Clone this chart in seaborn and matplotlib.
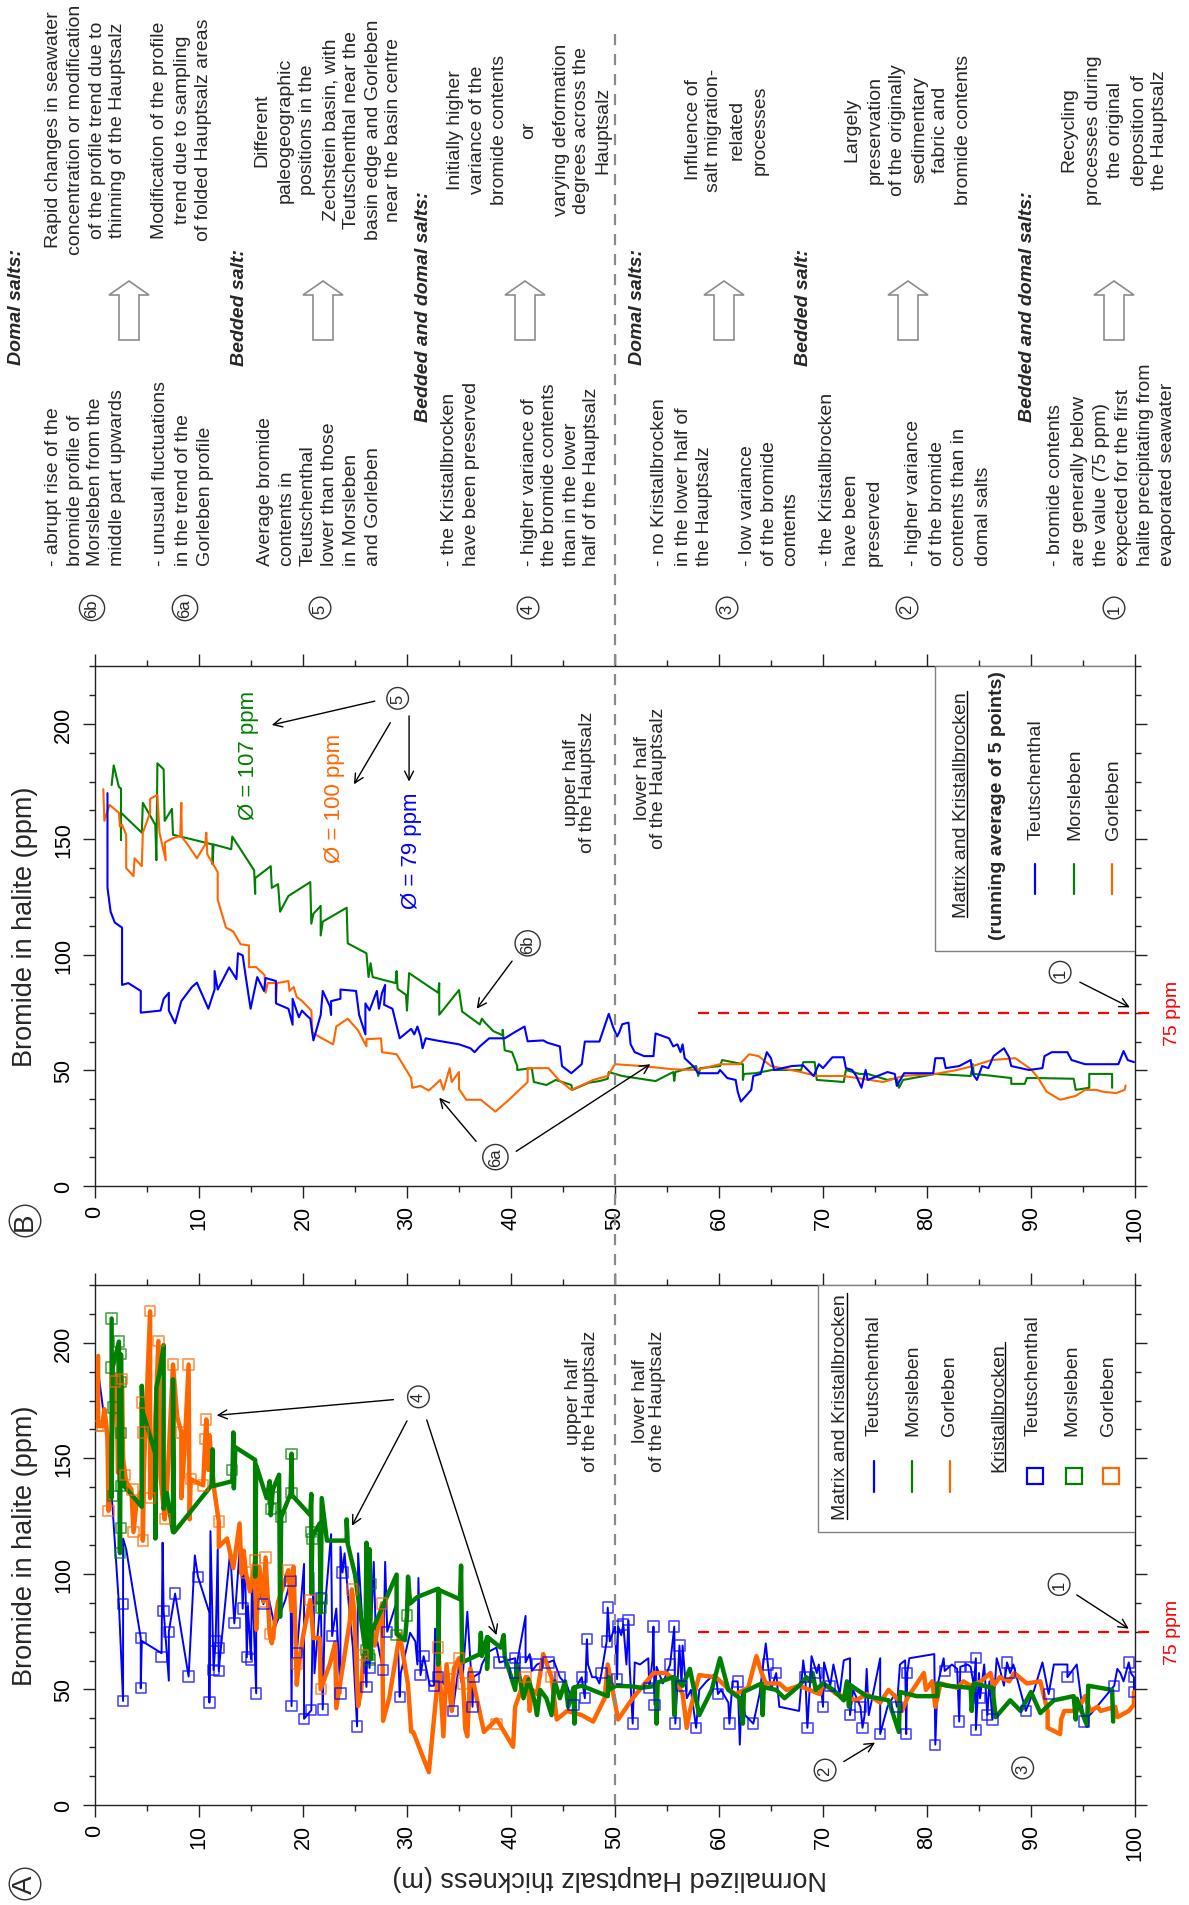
import numpy as np
import pandas as pd
import matplotlib
matplotlib.use("Agg")
import matplotlib.pyplot as plt
import seaborn as sns
from matplotlib.lines import Line2D
from matplotlib.patches import Polygon, Rectangle

# ---------------- data (thickness m, bromide ppm) ----------------
B_TEU = [(1.2,170),(1.2,129),(1.5,118.7),(1.9,114),(2.6,111.8),(2.6,87),(3.2,87.8),(4.4,84.4),(4.4,75),(6.3,75.9),(6.6,81),(7.1,83.6),(7.1,75.9),(7.7,70.4),(8.3,80),(9.3,86),(9.8,88),(10.4,81.8),(10.9,76.7),(11.5,85),(11.5,93),(11.8,85),(12.9,94.6),(13.6,89.5),(13.75,100.7),(14.2,99.8),(14.5,90.4),(14.96,76.7),(15.6,90.4),(16.25,84.4),(16.4,90),(17.4,88.7),(17.4,79),(18.6,76.7),(19.0,69.8),(19.0,81),(19.6,73),(19.9,75.9),(20.3,74),(20.7,72.4),(21.0,63),(21.7,74),(21.9,84.4),(22.6,77.6),(22.7,74),(22.7,80),(23.6,81),(23.6,85),(25.1,84.4),(25.4,74),(26.0,65.6),(26.0,79),(26.4,76),(27.1,84.4),(27.3,76.7),(27.6,83.6),(27.9,87),(27.8,78.4),(28.6,76.7),(29.3,63.9),(30.4,68),(30.7,65.6),(31.0,69),(31.3,64.7),(31.5,59.6),(31.8,63.9),(32.8,63),(35.0,61.3),(36.1,59.6),(36.5,57.9),(37.0,60.4),(37.9,63.9),(39.4,63.9),(40.3,66.4),(41.3,69),(41.6,62.6),(43.1,63),(43.5,62),(44.7,60.4),(44.9,51.9),(45.8,48.8),(46.8,52.7),(47.1,62.5),(48.5,62.5),(49.4,74.5),(49.8,69),(50.2,64.7),(50.4,66.4),(50.7,70),(51.3,70.7),(51.5,61.3),(51.9,57.9),(52.8,56.2),(53.7,56.2),(53.9,66),(55.2,63.9),(55.6,60.4),(56.0,61.3),(56.3,57.9),(56.5,61.3),(56.7,55.3),(57.5,51.9),(58.0,48.8),(59.9,48.8),(60.1,50.2),(60.8,46.7),(61.6,45.9),(61.8,40.8),(62.1,36.5),(63.1,41.6),(63.3,47.6),(64.0,48.5),(64.6,57.9),(65.0,55.3),(65.3,50.2),(67.0,51.9),(68.1,52.2),(69.1,47.6),(69.6,52.7),(70.0,51),(70.9,55.7),(72.0,55.7),(72.2,51),(72.8,50.2),(73.2,47.6),(73.7,42.5),(74.1,50.2),(74.3,45.9),(76.2,49.3),(76.9,48.5),(77.1,43.3),(77.8,48.8),(80.6,48.8),(80.8,55.3),(81.6,55.3),(81.8,51),(83.1,51.9),(84.2,54.5),(84.4,48.5),(84.8,45.9),(85.3,51.9),(85.9,51),(86.4,56.2),(87.4,59.6),(87.9,55.7),(88.1,51.9),(89.8,50.2),(91.1,51),(91.3,56.2),(92.0,57.9),(93.5,57.9),(93.9,54.5),(95.2,52.7),(98.4,52.7),(98.9,58.4),(99.3,54.5),(99.9,53.6)]

B_MOR = [(1.6,173.5),(1.8,182),(2.3,172.6),(2.5,172),(2.5,149.8),(2.5,161.5),(4.5,152.9),(4.6,165.8),(5.8,156.3),(5.9,141),(6.0,182.9),(6.6,180.3),(6.7,158),(7.4,163.2),(7.5,152),(11.3,147.8),(11.3,139.2),(11.4,147.8),(13.1,145.7),(13.2,151.2),(15.3,136.6),(15.4,126.4),(15.4,133.2),(16.9,138.4),(17.0,129),(17.6,130.6),(17.8,118.7),(18.6,125.5),(20.7,131.5),(20.8,113.5),(21.0,117.8),(21.7,121.2),(21.7,108.4),(21.9,114.4),(24.2,120.4),(24.3,105),(26.1,100.7),(26.3,90.4),(26.5,96.4),(26.7,90.4),(28.9,87.8),(29.0,93),(29.1,85.3),(29.9,82.7),(30.0,75.9),(30.2,92.1),(33.0,83.6),(33.1,87.8),(33.1,74.1),(35.0,84.8),(35.3,75.5),(37.0,69.9),(37.2,72.4),(37.5,70.7),(38.3,67),(39.2,65.2),(39.2,67.6),(39.4,58.7),(40.1,57.9),(40.6,51.9),(40.6,50.2),(42.0,51),(42.2,45),(43.4,43.7),(44.3,45.9),(45.8,43.7),(45.9,41.6),(47.5,44.7),(48.5,45.4),(49.3,46.4),(49.4,49.3),(50.7,47.6),(53.9,45.4),(55.6,49.3),(55.7,45.5),(55.8,49.3),(56.5,50.2),(57.8,51.9),(58.0,47.6),(58.2,51),(60.1,51.9),(60.3,54.5),(62.3,52.7),(62.3,45.9),(62.4,48.5),(63.5,48.8),(65.1,50.2),(67.9,50.2),(68.1,53.6),(69.2,53.6),(69.4,45.9),(72.0,45),(72.2,50.2),(73.5,48.5),(74.3,48.5),(76.2,45.9),(77.1,46.7),(77.3,42.5),(77.7,45.9),(80.8,48.5),(84.2,47.6),(84.4,52.7),(84.5,48.5),(86.4,47.6),(88.1,46.7),(88.1,44.2),(89.4,44.2),(89.6,46.7),(90.7,46.7),(94.1,46.4),(94.3,41.6),(95.6,42.5),(95.6,48.5),(97.8,48.5),(97.8,42.5)]

B_GOR = [(0.8,171.7),(0.9,158),(1.4,164.9),(2.3,161.5),(2.4,155.5),(2.6,156.3),(3.0,152),(3.0,137.5),(3.7,134.1),(3.8,141.8),(4.5,138.4),(4.6,152.9),(5.3,161.5),(5.3,167.5),(6.0,169.2),(6.2,152.9),(6.8,140.9),(6.7,148.6),(7.4,150.3),(8.2,151.5),(8.3,165.8),(8.35,151),(8.9,147.8),(9.8,141.8),(10.6,147.8),(10.7,152.9),(10.8,143.5),(11.8,135.8),(11.8,123.8),(12.6,111.8),(13.3,110.1),(14.0,104.6),(14.8,104.1),(14.8,94.7),(15.5,94.7),(16.3,91.3),(16.4,83.6),(16.6,87.8),(17.4,87.8),(17.4,80.1),(17.5,87.8),(18.6,88.7),(18.7,84.4),(19.1,86.1),(19.4,81.8),(19.9,80.1),(20.8,75.9),(20.9,66.4),(21.7,64.2),(22.9,61.3),(23.2,69),(24.3,72.4),(25.3,67.3),(26.1,60.4),(26.1,63.5),(27.5,63.9),(27.6,57.9),(29.0,57),(30.4,46.7),(30.5,42.5),(31.3,43.3),(32.1,41.3),(33.2,45.9),(33.5,41.6),(34.1,51),(34.3,45),(35.0,49.3),(35.0,42),(35.7,37.3),(37.1,37.3),(38.5,32.2),(39.8,37.3),(41.6,45),(41.6,51),(43.6,51),(44.6,45.9),(45.8,41.6),(47.1,44.2),(47.9,45.9),(49.3,47.6),(50.0,52.7),(52.6,51.9),(55.6,50.5),(57.8,50.2),(60.1,52.7),(62.0,52.7),(62.9,57),(63.8,56.2),(65.0,51.9),(67.9,49.3),(69.4,47.6),(72.0,47.6),(75.8,45),(77.7,47.6),(80.8,48.5),(82.9,50.2),(84.4,51.9),(86.2,54.5),(88.5,55.3),(90.0,50.5),(90.7,46.7),(91.5,40.8),(92.8,37.3),(94.3,39),(95.2,41.6),(96.3,41.6),(96.9,40.8),(98.2,40.2),(99.0,41.6),(99.1,43.5)]

A_TEU = [(0.3,187.9),(1.1,160),(1.2,153.9),(1.6,134.6),(2.3,86.9),(2.7,45),(2.7,115.3),(3.0,110.7),(4.4,72.2),(4.4,50.5),(4.5,71),(6.4,65.7),(6.5,113.5),(6.6,84),(7.1,53.8),(7.1,75),(7.7,91.5),(9.0,55.6),(9.6,108),(9.9,98.8),(11.0,83.2),(11.0,44.3),(11.1,118.5),(11.4,58.4),(11.6,71),(11.8,110.7),(11.9,57.9),(12.1,67.6),(13.0,109.8),(13.4,78.6),(14.0,116.3),(14.2,85),(14.4,109.8),(14.6,63.9),(14.7,86),(15.0,63),(15.1,99.7),(15.5,48.3),(15.5,96),(16.2,86.9),(16.4,96),(17.3,76.8),(18.3,88.7),(18.8,97),(18.9,42.8),(19.0,99),(19.4,65.7),(20.1,104.3),(20.1,37.3),(20.8,41),(21.0,100.6),(21.1,57),(21.7,89.6),(21.9,41.3),(22.1,85),(22.7,117.2),(22.8,73.1),(23.2,85),(23.6,48.3),(23.6,111.7),(23.8,100.6),(24.0,108.9),(24.4,87),(24.8,68),(25.2,34),(25.3,108.9),(25.6,87),(26.1,51.1),(26.2,73),(26.4,59.3),(26.8,105.2),(27.0,74),(27.7,58.4),(27.9,105.2),(28.1,75),(29.0,87.8),(29.3,46.8),(29.4,57),(30.3,74.5),(30.8,70.8),(31.0,60.8),(31.1,98.2),(31.3,56.2),(31.6,64.4),(32.2,51.6),(32.6,51.6),(32.7,76.3),(33.0,55.3),(33.7,51.6),(33.8,60.8),(34.2,44.3),(34.4,40.7),(35.0,60.8),(35.3,51.6),(35.8,83.6),(36.2,54.4),(36.3,42.5),(36.4,55.5),(37.0,57.1),(37.2,60.8),(37.8,66.2),(38.6,68.1),(38.9,61.7),(39.6,62.6),(40.4,63.5),(40.4,57.1),(41.4,81.8),(41.4,61.7),(41.8,65.3),(42.0,58),(42.5,60.8),(43.0,61.7),(43.2,63.5),(43.6,61.7),(44.1,62.6),(44.7,55.3),(45.4,51.6),(46.0,43.4),(46.1,49.8),(46.8,55.3),(47.1,46.2),(47.3,71.7),(47.4,60.8),(47.8,55.3),(48.2,55.3),(48.5,52.6),(48.7,57.1),(49.2,70.8),(49.3,85.4),(49.5,70.8),(50.0,77.2),(50.2,54.4),(50.3,77.2),(50.6,73.5),(50.8,78.1),(51.1,60.8),(51.3,79.9),(51.4,60.8),(51.7,35.2),(51.9,61.7),(52.4,60.8),(53.2,63.5),(53.3,50.7),(53.6,62.6),(53.7,77.2),(53.8,43.4),(54.0,59.8),(54.6,52.6),(55.3,60.8),(55.7,77.2),(55.8,35.2),(56.2,69),(56.4,51.6),(56.5,69),(56.9,46.2),(57.3,49.8),(57.8,33.4),(58.1,49.8),(58.8,53.5),(59.7,57.1),(59.9,48),(60.2,49.8),(60.9,44.3),(61.0,35.2),(61.3,53.5),(61.8,53.5),(62.0,26.1),(62.2,49.8),(62.5,38.9),(63.3,35.2),(63.9,48),(64.5,69.9),(64.7,60.8),(65.0,49.8),(65.5,57.1),(65.8,42.5),(67.7,40.7),(68.1,62.6),(68.3,55.3),(68.5,33.4),(68.9,64.4),(69.4,57.1),(69.6,60.8),(70.0,42.5),(70.1,61.7),(70.7,51.6),(71.0,60.8),(71.6,48),(72.0,62.6),(72.6,63.5),(72.6,38.9),(72.9,49.8),(73.6,42.5),(73.8,33.4),(74.0,38.9),(74.2,58.9),(74.4,38.9),(75.5,63.5),(75.5,30.7),(76.2,42.5),(76.9,48),(77.1,42.5),(77.4,60.8),(77.9,62.6),(78.0,30.7),(78.1,57.1),(78.3,63.5),(80.7,65.3),(80.8,26.1),(81.0,51.6),(81.6,63.5),(81.7,58),(82.4,60.8),(82.9,58.9),(83.1,36.1),(83.2,59.8),(83.9,60.8),(84.2,59.8),(84.5,51.6),(84.7,63.5),(84.7,32.5),(85.0,57.1),(85.1,46.2),(85.5,60.8),(85.8,38.9),(86.0,53.5),(86.3,37),(86.7,63.5),(87.0,58.9),(87.4,51.6),(87.7,61.7),(88.0,57.1),(88.3,60.8),(89.5,40.7),(90.3,49.8),(91.1,61.7),(91.7,48),(92.2,60.8),(93.5,60.8),(93.5,55.3),(94.4,60.8),(95.1,36.1),(96.0,40.7),(98.0,51.6),(98.3,58.9),(98.6,57.1),(98.9,53.5),(99.4,61.7),(99.6,57.1),(99.9,55.3),(99.9,48.9)]

A_MOR = [(1.6,210.5),(1.6,133),(1.7,189.3),(2.3,200.5),(2.4,109),(2.5,195),(2.6,142),(2.8,138),(4.5,129),(4.5,181.4),(4.6,170),(5.8,152),(5.8,115.3),(5.9,180.5),(6.2,187),(6.6,199),(6.6,128.2),(6.9,135),(7.5,118.1),(7.5,184.2),(7.6,118),(11.2,138.3),(11.3,153.9),(11.35,138),(13.2,140.1),(13.3,161.2),(13.35,137),(13.5,154.8),(15.4,149.3),(15.4,98.8),(15.5,147),(16.5,132.8),(16.8,140.1),(16.9,125.4),(17.1,136.5),(17.7,142.9),(17.8,81.4),(17.9,124.5),(18.8,134.6),(18.9,152),(18.95,134),(20.7,125.4),(20.8,134.6),(20.8,91.5),(20.9,116.3),(21.6,121.8),(21.7,83.2),(21.8,132.8),(22.3,114.4),(24.2,114.4),(24.2,123.6),(24.3,113),(25.0,99.7),(26.0,66.7),(26.1,113.5),(26.3,65),(26.4,110.7),(26.5,63),(26.6,75),(29.0,99.7),(29.0,74),(29.8,71.3),(30.0,82),(30.1,98.8),(30.3,87.2),(31.0,90),(33.0,93.6),(33.0,60.8),(33.1,93),(35.1,89),(35.2,103.6),(35.3,61.7),(37.0,65.3),(37.1,74.5),(37.2,64.5),(37.7,72.6),(37.7,58.9),(37.8,72.5),(39.0,68.1),(39.3,73.5),(39.4,64),(39.9,57.1),(40.4,49.8),(40.6,60.8),(41.2,46.2),(41.7,54.4),(42.3,44.3),(42.5,38.9),(42.8,49.8),(43.4,46.2),(43.9,38.9),(44.2,53.5),(44.7,46.2),(45.2,53.5),(45.5,42.5),(46.0,50.7),(46.1,35.2),(46.15,51),(46.8,51.6),(49.3,47.1),(49.4,55.3),(49.45,50),(50.1,51.6),(51.7,51.3),(52.5,50.7),(54.0,51.6),(54.0,35.2),(54.1,53),(55.6,55.3),(55.7,38.9),(55.8,55),(56.5,51.6),(57.2,58.9),(58.1,38.9),(59.3,49.8),(60.1,63.5),(60.9,49.8),(62.0,46.2),(62.3,35.2),(62.4,49),(64.1,52.6),(64.2,38.9),(64.3,51),(65.5,49.8),(66.3,46.2),(67.7,51.6),(68.4,55.3),(68.8,53.5),(69.0,57.1),(69.3,49.8),(70.0,52.6),(71.0,49.8),(72.0,45.3),(72.3,53.5),(72.5,42.5),(72.6,52),(73.3,49.8),(74.2,47.1),(76.3,45.3),(77.3,31.6),(77.4,48.9),(79.0,47.1),(81.0,47.1),(81.0,52.6),(81.9,51.6),(84.2,50.7),(84.3,40.7),(84.5,52.6),(86.3,50.7),(86.6,38),(88.0,45.3),(89.0,40.7),(90.0,48.9),(90.9,39.8),(92.2,45.3),(94.1,47.1),(94.3,37),(94.4,46),(95.4,34.3),(95.5,51.6),(97.8,49.8),(97.9,36.1)]

A_GOR = [(0.3,194.3),(0.3,164),(0.7,164),(0.9,171.3),(1.1,164),(1.2,158.5),(1.3,127.3),(1.5,150),(1.9,183.3),(2.1,186),(2.2,143.8),(2.6,184.2),(2.7,150),(2.9,142.9),(3.0,140),(3.5,136.5),(3.7,118.1),(4.0,131),(4.5,136.5),(4.5,174.1),(4.6,161.2),(4.6,114.4),(4.7,145),(5.3,213.6),(5.3,132.8),(5.6,145),(6.1,200.7),(6.3,142),(6.7,123.6),(6.9,134),(7.5,190.6),(7.9,168),(8.3,161.2),(8.3,132.8),(8.6,153),(9.0,190.6),(9.1,123.6),(9.2,141),(10.4,138.3),(10.6,158.5),(10.7,166.8),(10.9,145),(11.0,160),(11.4,138.3),(11.9,122.7),(11.9,111.7),(12.7,115.3),(13.3,102.5),(13.9,121.8),(14.1,100),(14.3,110),(14.5,100.6),(14.9,92.4),(15.2,100),(15.4,106),(15.5,75.9),(15.8,103),(16.2,88),(16.4,107.1),(16.8,74),(17.0,70),(17.6,87.8),(18.6,101.6),(18.9,84),(19.1,103),(19.4,52),(19.6,61),(20.0,73),(20.7,88.7),(21.0,72.2),(21.6,72.2),(21.7,50.1),(22.6,61.2),(23.1,70.3),(23.2,41.9),(24.5,79.5),(24.7,93.3),(24.9,85),(25.3,42.8),(25.6,50),(25.8,64.8),(26.1,64.8),(26.6,75.8),(26.9,69),(27.6,87.2),(27.7,36.4),(28.3,46.5),(29.3,74),(30.1,52),(30.4,31.8),(30.6,31.6),(32.1,14.2),(32.9,51.6),(33.0,68.1),(33.5,29.7),(33.8,60.8),(34.3,40.7),(34.5,59),(35.0,63.5),(35.4,52.6),(35.6,33),(35.8,29.7),(36.1,59),(37.4,31.6),(38.6,37),(38.9,35),(40.2,25.2),(40.4,42.5),(41.4,55.3),(41.6,55.3),(41.8,40.7),(42.0,50),(42.5,48),(43.1,65.3),(43.9,55.3),(44.4,37),(45.4,40.7),(46.8,38.9),(47.9,36.1),(49.0,46.2),(49.3,60.8),(50.3,37),(51.7,46.2),(53.7,57.1),(54.9,57.1),(55.9,53.5),(56.5,48),(56.9,33.4),(57.2,40.7),(58.1,56.2),(59.7,55.3),(61.0,49.8),(61.6,48),(62.8,50.7),(63.6,64.4),(64.1,57.1),(64.5,52.6),(65.8,52.6),(66.5,49.8),(67.7,51.6),(69.7,48),(70.0,52.6),(71.3,48),(73.2,45.3),(74.2,48),(75.5,44.3),(76.3,49.8),(77.1,46.2),(77.4,43.4),(77.6,40.7),(78.1,46.2),(79.7,57.1),(79.9,49.8),(80.5,53.5),(80.8,42.5),(81.3,52.6),(82.9,50.7),(83.5,53.5),(84.2,51.6),(85.2,53.5),(86.1,57.1),(86.4,51.6),(87.0,55.3),(87.9,53.5),(88.4,57.1),(89.6,52.6),(90.9,53.5),(91.6,40.7),(91.6,33.4),(92.8,30.7),(92.9,37),(93.2,40.7),(94.4,40.7),(95.2,47.1),(95.7,40.7),(96.4,42.5),(96.7,40.7),(98.1,42.5),(98.3,38),(99.4,40.7),(99.9,43.4),(99.9,48.9)]

A_TEU_KB = [(2.7,45),(2.7,87),(4.4,72.2),(4.4,50.5),(6.4,64),(6.6,84),(7.1,75),(7.7,91.5),(9.0,55.6),(9.9,98.8),(11.0,44.3),(11.4,58.4),(11.6,71),(11.9,57.9),(11.9,68),(13.4,78.6),(14.2,85),(14.6,63.9),(15.0,63),(15.5,48.3),(16.2,86.9),(18.8,97),(18.9,42.8),(19.4,65.7),(20.1,37.3),(20.8,41),(21.7,89.6),(21.9,41.3),(22.8,73.1),(23.6,48.3),(23.8,100.6),(25.2,34),(26.1,51.1),(26.4,59.3),(27.7,58.4),(28.1,75),(29.3,46.8),(31.3,56.2),(31.6,64.4),(32.6,51.6),(33.0,55.3),(34.4,40.7),(36.3,42.5),(36.4,55.5),(38.9,61.7),(40.4,63.5),(40.4,57.1),(41.4,61.7),(42.5,60.8),(43.6,61.7),(44.7,55.3),(46.0,43.4),(46.8,55.3),(47.1,46.2),(47.3,71.7),(48.7,57.1),(49.2,70.8),(49.3,85.4),(50.2,54.4),(50.3,77.2),(50.8,78.1),(51.3,79.9),(51.7,35.2),(53.3,50.7),(53.7,77.2),(53.8,43.4),(55.3,60.8),(55.7,77.2),(55.8,35.2),(56.2,69),(56.4,51.6),(57.8,33.4),(59.9,48),(61.0,35.2),(61.8,53.5),(63.3,35.2),(64.7,60.8),(65.5,57.1),(68.3,55.3),(68.5,33.4),(69.4,57.1),(70.0,42.5),(70.7,51.6),(72.6,38.9),(73.6,42.5),(73.8,33.4),(75.5,30.7),(77.1,42.5),(78.0,30.7),(78.1,57.1),(80.8,26.1),(81.7,58),(83.1,36.1),(83.2,59.8),(84.2,59.8),(84.7,63.5),(84.7,32.5),(85.1,46.2),(85.8,38.9),(86.3,37),(87.7,61.7),(88.0,57.1),(89.5,40.7),(91.7,48),(93.5,55.3),(95.1,36.1),(98.0,51.6),(99.4,61.7),(99.9,55.3),(99.9,48.9)]

A_MOR_KB = [(1.6,210.5),(1.6,189.3),(1.7,172),(1.7,133.7),(2.3,200.5),(2.5,195),(2.5,183),(2.5,161),(2.5,138),(2.5,120),(2.4,109),(13.2,145),(16.9,128),(17.1,133),(17.9,124.5),(18.9,152),(18.9,135),(20.8,118),(20.9,115),(21.7,85.5),(21.8,89),(26.1,67),(26.3,65),(26.4,63),(26.5,95.5),(29.0,73.5),(30.0,82)]

A_GOR_KB = [(0.3,164),(0.7,164),(1.3,127.3),(1.9,183.3),(2.6,184.2),(2.9,142.9),(3.6,136.5),(3.7,118.1),(4.5,174.1),(4.6,161.2),(4.6,114.4),(5.3,213.6),(5.3,132.8),(6.1,200.7),(6.7,123.6),(7.5,190.6),(8.3,161.2),(9.0,190.6),(9.2,141),(10.4,138.3),(10.6,158.5),(10.7,166.8),(11.9,122.7),(14.5,100.6),(15.4,106),(16.2,88),(16.4,107.1),(16.8,74),(18.6,101.6),(19.4,61),(20.7,88.7),(21.7,50.1),(24.7,93.3),(25.8,64.8),(27.6,87.2),(33.0,68.1),(34.3,59),(35.0,63.5),(35.4,52.6),(38.6,35),(41.4,55.3),(43.9,55.3)]

X_MAJOR = list(range(0, 101, 10))
Y_MAJOR = [0, 50, 100, 150, 200]
THRESHOLD = 75
MIDDLE = 50
MEANS = [("\u00d8 = 107 ppm", 107), ("\u00d8 = 100 ppm", 100), ("\u00d8 = 79 ppm", 79)]

BLUE, GREEN, ORANGE = "#0000ff", "#008000", "#ff6600"
RED, GREY = "#ff0000", "#8a8a8a"

# ---------------- style ----------------
sns.set_style("ticks")
plt.rcParams["font.family"] = ["Liberation Sans", "DejaVu Sans"]
plt.rcParams["axes.edgecolor"] = "#222222"
plt.rcParams["xtick.color"] = "#222222"
plt.rcParams["ytick.color"] = "#222222"
plt.rcParams["xtick.labelcolor"] = "black"
plt.rcParams["ytick.labelcolor"] = "black"

W, H = 1189, 1906
fig = plt.figure(figsize=(W / 100, H / 100), dpi=100)
fig.patch.set_facecolor("white")


def fx(px):
    return px / W


def fy(py):
    return 1 - py / H


def df(pairs):
    return pd.DataFrame(pairs, columns=["t", "br"])


axB = fig.add_axes([fx(95), fy(1187), 1040 / W, 520 / H])
axA = fig.add_axes([fx(95), fy(1806), 1040 / W, 520 / H])

# ---------------- panel B ----------------
for pairs, col in ((B_MOR, GREEN), (B_GOR, ORANGE), (B_TEU, BLUE)):
    sns.lineplot(data=df(pairs), x="t", y="br", sort=False, estimator=None,
                 color=col, lw=1.5, ax=axB, zorder=3)

# ---------------- panel A ----------------
sns.lineplot(data=df(A_TEU), x="t", y="br", sort=False, estimator=None,
             color=BLUE, lw=1.4, ax=axA, zorder=3)
sns.lineplot(data=df(A_GOR), x="t", y="br", sort=False, estimator=None,
             color=ORANGE, lw=3.2, ax=axA, zorder=4)
sns.lineplot(data=df(A_MOR), x="t", y="br", sort=False, estimator=None,
             color=GREEN, lw=3.2, ax=axA, zorder=5)
for pairs, col in ((A_TEU_KB, BLUE), (A_MOR_KB, GREEN), (A_GOR_KB, ORANGE)):
    sns.scatterplot(data=df(pairs), x="t", y="br", marker="s", s=55,
                    ax=axA, zorder=6, legend=False)
    coll = axA.collections[-1]
    coll.set_facecolor("none")
    coll.set_edgecolor(col)
    coll.set_linewidth(1.2)
    coll.set_alpha(0.7)

# ---------------- axes formatting ----------------
for ax in (axA, axB):
    ax.set_xlim(0, 100)
    ax.set_ylim(0, 225)
    ax.set_xticks(X_MAJOR)
    ax.set_xticks([v for v in range(5, 100, 10)], minor=True)
    ax.set_yticks(Y_MAJOR)
    ax.set_yticks([v for v in np.arange(12.5, 225.1, 12.5) if v % 50], minor=True)
    ax.tick_params(which="both", direction="out", top=True, right=True,
                   width=1.0)
    ax.tick_params(which="major", length=8.6)
    ax.tick_params(which="minor", length=4.6)
    ax.tick_params(axis="x", which="major", labelrotation=90, labelsize=15.5, pad=5)
    ax.tick_params(axis="y", which="major", labelrotation=90, labelsize=15.5, pad=6.5)
    for lab in ax.get_yticklabels():
        lab.set_va("center")
    ax.set_xlabel("")
    ax.set_ylabel("")
    for sp in ax.spines.values():
        sp.set_linewidth(1.0)
    ax.plot([58, 102], [THRESHOLD, THRESHOLD], ls=(0, (5, 4)), color=RED,
            lw=1.6, clip_on=False, zorder=2)
    ax.text(103.6, THRESHOLD, "75 ppm", color=RED, rotation=90, ha="center",
            va="center", fontsize=14)

# half labels
for ax, up, low in ((axB, (46.6, 175), (53.4, 177)), (axA, (46.85, 175), (53.25, 175))):
    ax.text(*up, "upper half\nof the Hauptsalz", rotation=90, ha="center",
            va="center", multialignment="center", fontsize=14, linespacing=0.97)
    ax.text(*low, "lower half\nof the Hauptsalz", rotation=90, ha="center",
            va="center", multialignment="center", fontsize=14, linespacing=0.97)

circ = dict(boxstyle="circle,pad=0.2", fc="white", ec="#333333", lw=1.0)
arr = dict(arrowstyle="->", color="black", lw=1.0, shrinkA=0, shrinkB=0,
           mutation_scale=16)


def circled(ax, xy, s, fs=12):
    ax.text(xy[0], xy[1], s, rotation=90, ha="center", va="center",
            fontsize=fs, bbox=circ, zorder=8)


def arrow(ax, start, end):
    ax.annotate("", xy=end, xytext=start, arrowprops=arr, zorder=8)


# panel B annotations
for (txt, _), pos, col in zip(MEANS, [(14.8, 186.8), (23.0, 168), (30.4, 145.7)],
                              [GREEN, ORANGE, BLUE]):
    axB.text(pos[0], pos[1], txt, rotation=90, color=col, ha="center",
             va="center", fontsize=16)
circled(axB, (29.1, 211), "5")
arrow(axB, (26.9, 209.8), (17.0, 199.5))
arrow(axB, (28.4, 200.5), (24.9, 173.8))
arrow(axB, (30.2, 203.4), (30.2, 175.0))
circled(axB, (41.6, 105), "6b")
arrow(axB, (40.1, 97.3), (36.7, 76.7))
circled(axB, (38.5, 12.5), "6a")
arrow(axB, (36.65, 19.3), (33.1, 38.2))
arrow(axB, (40.5, 15.0), (53.4, 52.7))
circled(axB, (92.8, 92.5), "1")
arrow(axB, (94.7, 88.2), (99.5, 77.3))

# panel A annotations
circled(axA, (31.1, 176.6), "4")
arrow(axA, (28.7, 175.4), (11.7, 168.6))
arrow(axA, (30.0, 166.2), (24.7, 120.8))
arrow(axA, (31.9, 166.6), (38.6, 73.5))
circled(axA, (70.2, 15.1), "2")
arrow(axA, (72.0, 18.8), (75.0, 27.0))
circled(axA, (89.2, 16.0), "3")
circled(axA, (92.7, 95.4), "1")
arrow(axA, (94.4, 90.9), (99.4, 76.3))

# ---------------- legends (drawn manually, rotated) ----------------
underlined = []


def ax_frac(t, b):
    return t / 100.0, b / 225.0


def legend_box(ax, t0, b0):
    x0, y0 = ax_frac(t0, b0)
    ax.add_patch(Rectangle((x0, y0), 1 - x0, 1 - y0, transform=ax.transAxes,
                           fc="white", ec="#808080", lw=1.0, zorder=7))


def legend_text(ax, t, b, s, **kw):
    x, y = ax_frac(t, b)
    return ax.text(x, y, s, transform=ax.transAxes, rotation=90, ha="center",
                   va="bottom", fontsize=14, zorder=9, **kw)


legend_box(axB, 80.8, 101.8)
underlined.append(legend_text(axB, 83.3, 116.4, "Matrix and Kristallbrocken"))
legend_text(axB, 86.8, 106.9, "(running average of 5 points)", fontweight="bold")
for t, col, name in ((90.4, BLUE, "Teutschenthal"), (94.1, GREEN, "Morsleben"),
                     (97.8, ORANGE, "Gorleben")):
    x, y0 = ax_frac(t, 126.4)
    _, y1 = ax_frac(t, 139.3)
    axB.add_line(Line2D([x, x], [y0, y1], transform=axB.transAxes, color=col,
                        lw=1.6, zorder=9))
    legend_text(axB, t + 0.1, 150.2, name)

legend_box(axA, 69.5, 118.2)
underlined.append(legend_text(axA, 71.7, 123.7, "Matrix and Kristallbrocken"))
for t, col, name in ((74.9, BLUE, "Teutschenthal"), (78.6, GREEN, "Morsleben"),
                     (82.2, ORANGE, "Gorleben")):
    x, y0 = ax_frac(t, 135.6)
    _, y1 = ax_frac(t, 148.7)
    axA.add_line(Line2D([x, x], [y0, y1], transform=axA.transAxes, color=col,
                        lw=1.6, zorder=9))
    legend_text(axA, t, 160.2, name)
underlined.append(legend_text(axA, 86.9, 144.7, "Kristallbrocken"))
for t, col, name in ((90.4, BLUE, "Teutschenthal"), (94.1, GREEN, "Morsleben"),
                     (97.7, ORANGE, "Gorleben")):
    x, y = ax_frac(t, 142.3)
    axA.add_line(Line2D([x], [y], transform=axA.transAxes, marker="s", ms=11,
                        mfc="none", mec=col, mew=1.6, zorder=9))
    legend_text(axA, t - 0.2, 160.2, name)

# ---------------- figure-level labels ----------------
for yc in (927, 1546):
    fig.text(fx(25), fy(yc), "Bromide in halite (ppm)", rotation=90,
             ha="center", va="center", fontsize=19.5)
fig.text(fx(610), fy(1878), "Normalized Hauptsalz thickness (m)", rotation=180,
         ha="center", va="center", fontsize=19.5)
big_circ = dict(boxstyle="circle,pad=0.1", fc="white", ec="#333333", lw=1.0)
fig.text(fx(25), fy(1222), "B", rotation=90, ha="center", va="center",
         fontsize=20, bbox=big_circ)
fig.text(fx(25), fy(1885), "A", rotation=90, ha="center", va="center",
         fontsize=20, bbox=big_circ)

# grey dashed boundary between upper and lower Hauptsalz, across the figure
x_mid_px = axB.transData.transform((MIDDLE, 0))[0]
fig.add_artist(Line2D([x_mid_px / W, x_mid_px / W], [fy(35), fy(1806)],
                      transform=fig.transFigure, color=GREY, lw=1.6,
                      ls=(0, (5, 4)), zorder=1))

# ---------------- interpretation text block ----------------
LEFT_Y = 566
RIGHT_Y = 130
HEAD_Y = 307
CIRC_Y = 609

headings = [("Domal salts:", 17), ("Bedded salt:", 239),
            ("Bedded and domal salts:", 423), ("Domal salts:", 638),
            ("Bedded salt:", 803), ("Bedded and domal salts:", 1028)]
for s, x in headings:
    fig.text(fx(x), fy(HEAD_Y), s, rotation=90, ha="center", va="center",
             fontsize=14, fontweight="bold", fontstyle="italic")

left_notes = [
    (["- abrupt rise of the", "bromide profile of", "Morsleben from the", "middle part upwards"], [54, 75, 96, 117]),
    (["- unusual fluctuations", "in the trend of the", "Gorleben profile"], [161, 183, 205]),
    (["Average bromide", "contents in", "Teutschenthal", "lower than those", "in Morsleben", "and Gorleben"], [266, 287, 308, 330, 352, 373]),
    (["- the Kristallbrocken", "have been preserved"], [450, 471]),
    (["- higher variance of", "the bromide contents", "than in the lower", "half of the Hauptsalz"], [529, 550, 571, 592]),
    (["- no Kristallbrocken", "in the lower half of", "the Hauptsalz"], [660, 683, 705]),
    (["- low variance", "of the bromide", "contents"], [747, 770, 791]),
    (["- the Kristallbrocken", "have been", "preserved"], [827, 851, 874]),
    (["- higher variance", "of the bromide", "contents than in", "domal salts"], [914, 937, 960, 983]),
    (["- bromide contents", "are generally below", "the value (75 ppm)", "expected for the first", "halite precipitating from", "evaporated seawater"], [1056, 1079, 1101, 1124, 1146, 1168]),
]
for lines, xs in left_notes:
    for s, x in zip(lines, xs):
        fig.text(fx(x), fy(LEFT_Y), s, rotation=90, ha="center", va="bottom",
                 fontsize=14)

right_notes = [
    (["Rapid changes in seawater", "concentration or modification", "of the profile trend due to", "thinning of the Hauptsalz"], [54, 76, 97, 118]),
    (["Modification of the profile", "trend due to sampling", "of folded Hauptsalz areas"], [160, 182, 204]),
    (["Different", "paleogeographic", "positions in the", "Zechstein basin, with", "Teutschenthal near the", "basin edge and Gorleben", "near the basin centre"], [262, 285, 308, 331, 352, 373, 394]),
    (["Initially higher", "variance of the", "bromide contents", "or", "varying deformation", "degrees across the", "Hauptsalz"], [456, 478, 499, 529, 561, 582, 603]),
    (["Influence of", "salt migration-", "related", "processes"], [693, 714, 737, 760]),
    (["Largely", "preservation", "of the originally", "sedimentary", "fabric and", "bromide contents"], [852, 875, 897, 920, 941, 964]),
    (["Recycling", "processes during", "the original", "deposition of", "the Hauptsalz"], [1069, 1093, 1116, 1139, 1159]),
]
for lines, xs in right_notes:
    for s, x in zip(lines, xs):
        fig.text(fx(x), fy(RIGHT_Y), s, rotation=90, ha="center", va="center",
                 fontsize=14)

for s, x in (("6b", 92), ("6a", 185), ("5", 320), ("4", 528), ("3", 727),
             ("2", 907), ("1", 1114)):
    fig.text(fx(x), fy(CIRC_Y), s, rotation=90, ha="center", va="center",
             fontsize=12, bbox=circ)


def hollow_arrow(cx, tip=282, base=296, bottom=341, hw=20, sw=10):
    pts = [(cx, tip), (cx + hw, base), (cx + sw, base), (cx + sw, bottom),
           (cx - sw, bottom), (cx - sw, base), (cx - hw, base)]
    poly = Polygon([(fx(a), fy(b)) for a, b in pts], closed=True,
                   transform=fig.transFigure, fc="white", ec="#8c8c8c", lw=1.2)
    fig.add_artist(poly)


for cx in (129, 323, 525, 724, 908, 1114):
    hollow_arrow(cx)

# underline legend headers
fig.canvas.draw()
renderer = fig.canvas.get_renderer()
for t in underlined:
    bb = t.get_window_extent(renderer)
    x = bb.x1 - 2.5
    fig.add_artist(Line2D([x / W, x / W], [bb.y0 / H, bb.y1 / H],
                          transform=fig.transFigure, color="black", lw=1.0,
                          zorder=10))

fig.savefig("out.png", dpi=100, facecolor="white")
